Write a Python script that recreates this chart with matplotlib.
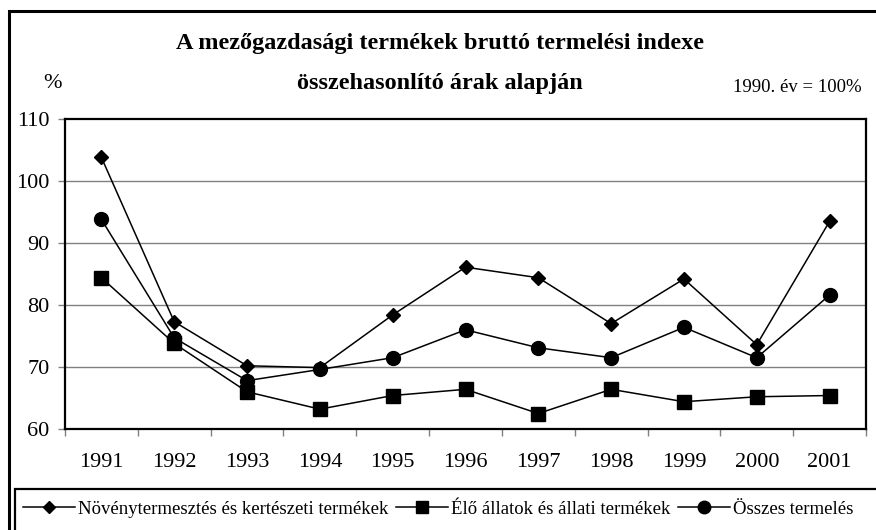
import matplotlib
matplotlib.use("Agg")
import matplotlib.pyplot as plt
from matplotlib.patches import Rectangle

years = ["1991", "1992", "1993", "1994", "1995", "1996", "1997", "1998", "1999", "2000", "2001"]
noveny = [103.8, 77.3, 70.2, 69.9, 78.4, 86.1, 84.4, 77.0, 84.2, 73.6, 93.5]
allat = [84.4, 73.8, 66.0, 63.2, 65.4, 66.4, 62.5, 66.4, 64.4, 65.2, 65.4]
osszes = [93.8, 74.7, 67.8, 69.6, 71.5, 76.0, 73.1, 71.5, 76.4, 71.5, 81.6]
labels = ["Növénytermesztés és kertészeti termékek", "Élő állatok és állati termékek", "Összes termelés"]
yticks = [60, 70, 80, 90, 100, 110]

plt.rcParams['font.family'] = ['Liberation Serif', 'DejaVu Serif']

W, H = 876, 530
fig = plt.figure(figsize=(W / 100, H / 100), dpi=100)
ax = fig.add_axes([65 / W, 1 - 429 / H, (866 - 65) / W, (429 - 119) / H])

x = list(range(len(years)))
lw = 1.1
h1, = ax.plot(x, noveny, color='black', lw=lw, marker='D', ms=7, zorder=3)
h2, = ax.plot(x, allat, color='black', lw=lw, marker='s', ms=10, zorder=3)
h3, = ax.plot(x, osszes, color='black', lw=lw, marker='o', ms=10, zorder=3)

ax.set_xlim(-0.5, len(years) - 0.5)
ax.set_ylim(60, 110)
ax.set_yticks(yticks)
ax.set_yticklabels([str(v) for v in yticks], fontsize=16)
ax.set_xticks(x)
ax.set_xticklabels(years, fontsize=16)
ax.set_xticks([i - 0.5 for i in range(len(years) + 1)], minor=True)
ax.tick_params(axis='x', which='major', length=0, pad=17)
ax.tick_params(axis='x', which='minor', length=5, width=1, color='#808080', direction='out')
ax.tick_params(axis='y', which='major', length=5, width=1, color='#808080', direction='out', pad=6)
for v in yticks[1:-1]:
    ax.axhline(v, color='#808080', lw=1.0, zorder=1)
for s in ax.spines.values():
    s.set_linewidth(1.6)
    s.set_color('black')

fig.text(440 / W, 1 - 44 / H, "A mezőgazdasági termékek bruttó termelési indexe",
         ha='center', va='center', fontsize=17.5, fontweight='bold')
fig.text(440 / W, 1 - 84 / H, "összehasonlító árak alapján",
         ha='center', va='center', fontsize=17.5, fontweight='bold')
fig.text(52 / W, 1 - 84 / H, "%", ha='center', va='center', fontsize=16)
fig.text(862 / W, 1 - 88 / H, "1990. év = 100%", ha='right', va='center', fontsize=13.5)

# outer frame
fig.patches.append(Rectangle((8.5 / W, -0.1), 1.2, 1 - 11 / H + 0.1, transform=fig.transFigure,
                             fill=False, edgecolor='black', lw=2.2, zorder=0))
# legend box
fig.patches.append(Rectangle((14.5 / W, -0.1), 1.2, 0.1 + 1 - 489 / H, transform=fig.transFigure,
                             fill=True, facecolor='white', edgecolor='black', lw=1.6, zorder=1))
leg = fig.legend([h1, h2, h3], labels, loc='center left', bbox_to_anchor=(23 / W, 1 - 509 / H),
                 ncol=3, frameon=False, fontsize=13.5, handlelength=2.77, handletextpad=0.17,
                 columnspacing=0.4, borderpad=0, borderaxespad=0)
for lh, ms in zip(leg.get_lines(), [6.5, 9, 9]):
    lh.set_markersize(ms)

fig.savefig("out.png", dpi=100)
